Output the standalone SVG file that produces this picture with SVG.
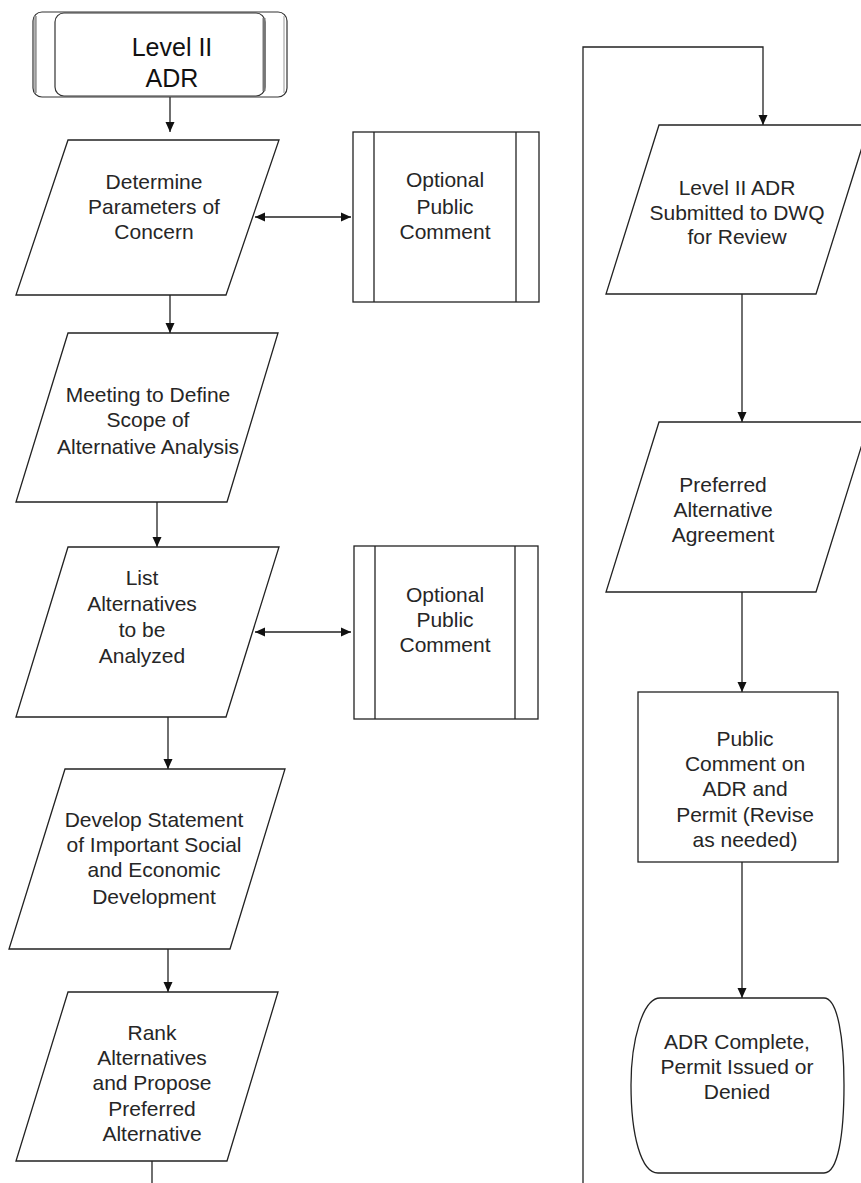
<svg xmlns="http://www.w3.org/2000/svg" width="861" height="1183" viewBox="0 0 861 1183">
<defs>
<marker id="ah" viewBox="0 0 10 10" refX="10" refY="5" markerWidth="11" markerHeight="10" markerUnits="userSpaceOnUse" orient="auto-start-reverse">
<path d="M0,0.5 L10,5 L0,9.5 Z" fill="#111"/>
</marker>
<style>
.shape{fill:#fff;stroke:#222;stroke-width:1.3}
.line{fill:none;stroke:#222;stroke-width:1.3}
.t{font-family:"Liberation Sans",Arial,sans-serif;font-size:21px;fill:#262626;text-anchor:middle}
.big{font-size:25px;fill:#111}
</style>
</defs>
<rect width="861" height="1183" fill="#fff"/>
<g id="connectors">
<line class="line" x1="170" y1="97" x2="170" y2="132" marker-end="url(#ah)"/>
<line class="line" x1="170" y1="295" x2="170" y2="333" marker-end="url(#ah)"/>
<line class="line" x1="157" y1="502" x2="157" y2="547" marker-end="url(#ah)"/>
<line class="line" x1="168" y1="717" x2="168" y2="769" marker-end="url(#ah)"/>
<line class="line" x1="168" y1="949" x2="168" y2="992" marker-end="url(#ah)"/>
<line class="line" x1="152" y1="1154" x2="152" y2="1183"/>
<line class="line" x1="255" y1="217" x2="351" y2="217" marker-start="url(#ah)" marker-end="url(#ah)"/>
<line class="line" x1="255" y1="632" x2="351" y2="632" marker-start="url(#ah)" marker-end="url(#ah)"/>
<polyline class="line" points="583,1183 583,47 763,47 763,125" marker-end="url(#ah)"/>
<line class="line" x1="742" y1="294" x2="742" y2="422" marker-end="url(#ah)"/>
<line class="line" x1="742" y1="592" x2="742" y2="692" marker-end="url(#ah)"/>
<line class="line" x1="742" y1="862" x2="742" y2="998" marker-end="url(#ah)"/>
</g>
<g id="start">
<rect x="33" y="12" width="254" height="85" rx="9" fill="#fff" stroke="#333" stroke-width="1.2"/>
<line x1="35.5" y1="16" x2="35.5" y2="93" stroke="#999" stroke-width="2.5"/>
<line x1="284" y1="16" x2="284" y2="93" stroke="#ccc" stroke-width="2"/>
<rect x="55" y="13" width="210" height="83" rx="9" fill="#fff" stroke="#333" stroke-width="1.2"/>
<line x1="264" y1="18" x2="264" y2="91" stroke="#777" stroke-width="3"/>
<text class="t big" x="172" y="56">Level II</text>
<text class="t big" x="172" y="87">ADR</text>
</g>
<g id="p1">
<polygon class="shape" points="68,140 279,140 226,295 16,295"/>
<text class="t" x="154" y="189">Determine</text>
<text class="t" x="154" y="214">Parameters of</text>
<text class="t" x="154" y="239">Concern</text>
</g>
<g id="opt1">
<rect class="shape" x="353" y="132" width="186" height="170"/>
<line class="line" x1="374" y1="132" x2="374" y2="302"/>
<line class="line" x1="516" y1="132" x2="516" y2="302"/>
<text class="t" x="445" y="187">Optional</text>
<text class="t" x="445" y="214">Public</text>
<text class="t" x="445" y="239">Comment</text>
</g>
<g id="p2">
<polygon class="shape" points="68,333 278,333 227,502 16,502"/>
<text class="t" x="148" y="402">Meeting to Define</text>
<text class="t" x="148" y="427">Scope of</text>
<text class="t" x="148" y="454">Alternative Analysis</text>
</g>
<g id="p3">
<polygon class="shape" points="68,547 279,547 226,717 16,717"/>
<text class="t" x="142" y="585">List</text>
<text class="t" x="142" y="611">Alternatives</text>
<text class="t" x="142" y="637">to be</text>
<text class="t" x="142" y="663">Analyzed</text>
</g>
<g id="opt2">
<rect class="shape" x="354" y="546" width="184" height="173"/>
<line class="line" x1="375" y1="546" x2="375" y2="719"/>
<line class="line" x1="515" y1="546" x2="515" y2="719"/>
<text class="t" x="445" y="602">Optional</text>
<text class="t" x="445" y="627">Public</text>
<text class="t" x="445" y="652">Comment</text>
</g>
<g id="p4">
<polygon class="shape" points="65,769 285,769 230,949 9,949"/>
<text class="t" x="154" y="827">Develop Statement</text>
<text class="t" x="154" y="852">of Important Social</text>
<text class="t" x="154" y="877">and Economic</text>
<text class="t" x="154" y="904">Development</text>
</g>
<g id="p5">
<polygon class="shape" points="68,992 278,992 227,1161 16,1161"/>
<text class="t" x="152" y="1040">Rank</text>
<text class="t" x="152" y="1065">Alternatives</text>
<text class="t" x="152" y="1090">and Propose</text>
<text class="t" x="152" y="1116">Preferred</text>
<text class="t" x="152" y="1141">Alternative</text>
</g>
<g id="p6">
<polygon class="shape" points="659,125 869,125 816,294 606,294"/>
<text class="t" x="737" y="195">Level II ADR</text>
<text class="t" x="737" y="220">Submitted to DWQ</text>
<text class="t" x="737" y="244">for Review</text>
</g>
<g id="p7">
<polygon class="shape" points="659,422 869,422 816,592 606,592"/>
<text class="t" x="723" y="492">Preferred</text>
<text class="t" x="723" y="517">Alternative</text>
<text class="t" x="723" y="542">Agreement</text>
</g>
<g id="public">
<rect class="shape" x="638" y="692" width="200" height="170"/>
<text class="t" x="745" y="746">Public</text>
<text class="t" x="745" y="771">Comment on</text>
<text class="t" x="745" y="796">ADR and</text>
<text class="t" x="745" y="822">Permit (Revise</text>
<text class="t" x="745" y="847">as needed)</text>
</g>
<g id="end">
<path class="shape" d="M660,998 H824 C838,998 844,1040 844,1085 C844,1135 838,1173 824,1173 H658 C641,1173 631,1135 631,1085 C631,1040 643,998 660,998 Z"/>
<text class="t" x="737" y="1049">ADR Complete,</text>
<text class="t" x="737" y="1074">Permit Issued or</text>
<text class="t" x="737" y="1099">Denied</text>
</g>
</svg>
